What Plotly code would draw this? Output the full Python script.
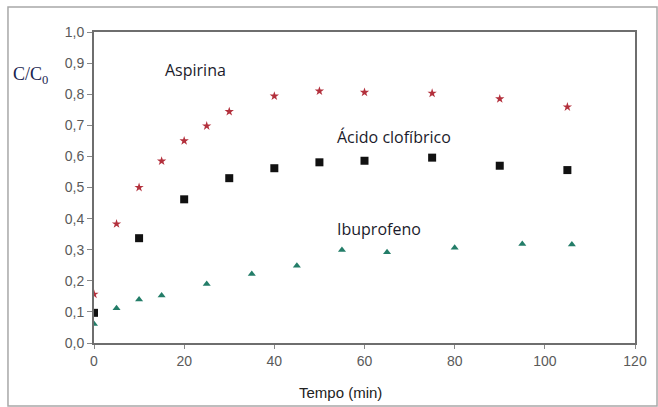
import plotly.graph_objects as go

# Time points (min) and relative concentration C/C0 for each compound
t_aspirina = [0, 5, 10, 15, 20, 25, 30, 40, 50, 60, 75, 90, 105]
c_aspirina = [0.157, 0.383, 0.50, 0.585, 0.650, 0.698, 0.744, 0.794, 0.810, 0.806, 0.803, 0.785, 0.759]

t_clofibrico = [0, 10, 20, 30, 40, 50, 60, 75, 90, 105]
c_clofibrico = [0.097, 0.337, 0.462, 0.530, 0.562, 0.581, 0.586, 0.596, 0.570, 0.556]

t_ibuprofeno = [0, 5, 10, 15, 25, 35, 45, 55, 65, 80, 95, 106]
c_ibuprofeno = [0.061, 0.112, 0.140, 0.153, 0.190, 0.222, 0.248, 0.299, 0.292, 0.306, 0.318, 0.317]

x_ticks = [0, 20, 40, 60, 80, 100, 120]
y_ticks = [0.0, 0.1, 0.2, 0.3, 0.4, 0.5, 0.6, 0.7, 0.8, 0.9, 1.0]

fig = go.Figure()
fig.add_trace(go.Scatter(
    x=t_aspirina, y=c_aspirina, mode="markers", name="Aspirina",
    marker=dict(symbol="star", size=7, color="#b3303c"),
))
fig.add_trace(go.Scatter(
    x=t_clofibrico, y=c_clofibrico, mode="markers", name="Ácido clofíbrico",
    marker=dict(symbol="square", size=8, color="#111111"),
))
fig.add_trace(go.Scatter(
    x=t_ibuprofeno, y=c_ibuprofeno, mode="markers", name="Ibuprofeno",
    marker=dict(symbol="triangle-up", size=7, color="#237d68"),
))

# Series labels placed in data coordinates
label_font = dict(family="Open Sans", size=16, color="#1b1b2b")
fig.add_annotation(x=22.5, y=0.878, xref="x", yref="y", text="Aspirina",
                   showarrow=False, font=label_font)
fig.add_annotation(x=66.5, y=0.662, xref="x", yref="y", text="Ácido clofíbrico",
                   showarrow=False, font=label_font)
fig.add_annotation(x=63.3, y=0.367, xref="x", yref="y", text="Ibuprofeno",
                   showarrow=False, font=label_font)

# Y-axis caption placed top-left beside the tick labels
fig.add_annotation(x=-0.153, y=0.905, xref="paper", yref="paper", xanchor="left",
                   text="C/C<sub>0</sub>", showarrow=False,
                   font=dict(family="Liberation Serif", size=18, color="#1a2550"))

# X-axis caption
fig.add_annotation(x=0.455, y=-0.193, xref="paper", yref="paper", text="Tempo (min)",
                   showarrow=False,
                   font=dict(family="Liberation Sans", size=15, color="#222222"))

# Outer frame around the whole chart
fig.add_shape(type="rect", xref="paper", yref="paper",
              x0=-0.159, x1=1.0407, y0=-0.2026, y1=1.080,
              line=dict(color="#a8a8a8", width=1.5), fillcolor="rgba(0,0,0,0)")

tick_font = dict(family="Liberation Sans", size=14, color="#5a5a5a")
fig.update_xaxes(
    range=[0, 120], tickvals=x_ticks, ticks="outside", ticklen=4, tickcolor="#888888",
    showline=True, linecolor="#6e6e6e", linewidth=2, mirror=True,
    showgrid=False, zeroline=False, tickfont=tick_font,
)
fig.update_yaxes(
    range=[0, 1.0], tickvals=y_ticks, tickformat=".1f", ticks="outside", ticklen=5,
    tickcolor="#888888", showline=True, linecolor="#6e6e6e", linewidth=2, mirror=True,
    showgrid=False, zeroline=False, tickfont=tick_font,
)
fig.update_layout(
    width=658, height=407, separators=",.",
    margin=dict(l=94, r=23, t=32, b=64),
    plot_bgcolor="white", paper_bgcolor="white", showlegend=False,
)
fig.write_html("out.html")
